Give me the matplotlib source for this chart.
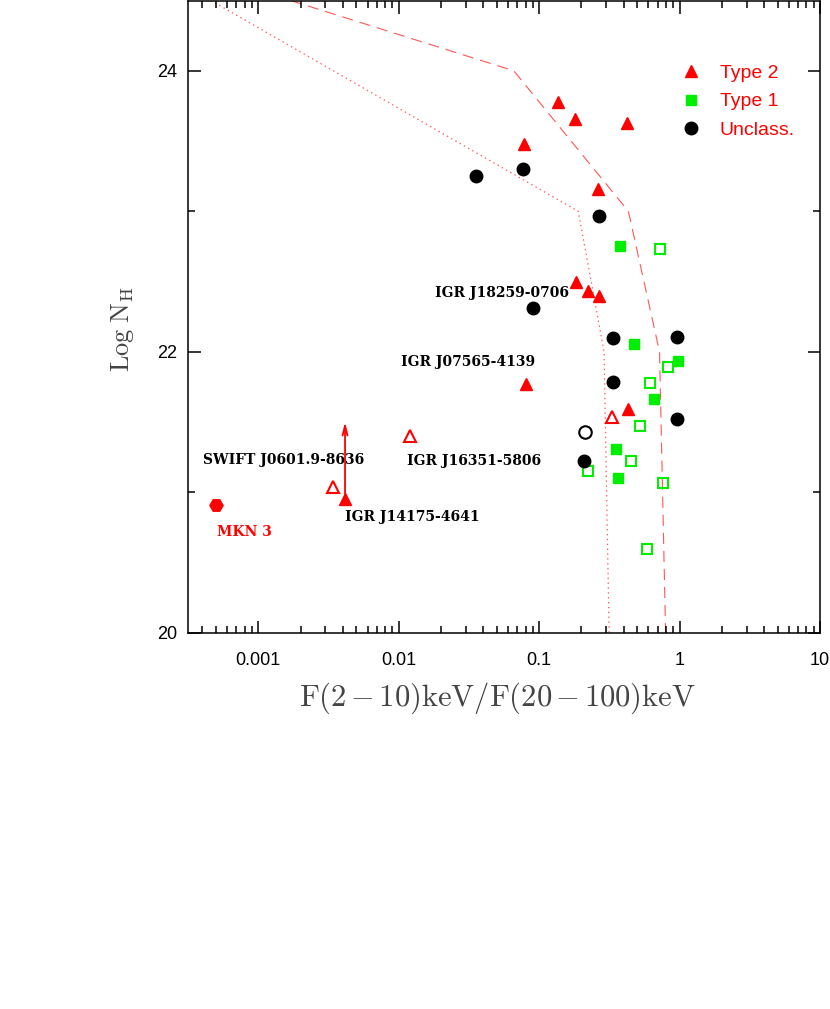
import matplotlib
matplotlib.use("Agg")
import matplotlib.pyplot as plt
from matplotlib.lines import Line2D

plt.rcParams['mathtext.fontset'] = 'cm'
plt.rcParams['lines.scale_dashes'] = False

# Type 2 (filled / open triangles)
t2_x = [0.136, 0.181, 0.425, 0.078, 0.261, 0.182, 0.222, 0.266, 0.0804, 0.432, 0.00415]
t2_y = [23.78, 23.66, 23.63, 23.48, 23.16, 22.50, 22.43, 22.40, 21.77, 21.59, 20.95]
t2o_x = [0.332, 0.0121, 0.00343]
t2o_y = [21.535, 21.40, 21.04]

# Type 1 (filled / open squares)
t1_x = [0.375, 0.473, 0.968, 0.653, 0.355, 0.365]
t1_y = [22.75, 22.056, 21.935, 21.664, 21.31, 21.10]
t1o_x = [0.724, 0.822, 0.615, 0.523, 0.451, 0.221, 0.766, 0.589]
t1o_y = [22.73, 21.894, 21.775, 21.47, 21.225, 21.15, 21.07, 20.60]

# Unclassified (filled / open circles)
un_x = [0.0353, 0.0766, 0.269, 0.0906, 0.338, 0.953, 0.338, 0.958, 0.209]
un_y = [23.25, 23.30, 22.97, 22.315, 22.096, 22.105, 21.785, 21.52, 21.22]
uno_x = [0.211]
uno_y = [21.43]

# MKN 3
mkn_x = [0.000504]
mkn_y = [20.91]

# lower limit for IGR J14175-4641
lim_x = 0.00415
lim_y = 20.95
lim_top = 21.50

# model curves
dash_x = [0.0017, 0.066, 0.432, 0.72, 0.795]
dash_y = [24.5, 24.0, 23.0, 22.0, 20.0]
dot_x = [0.00046, 0.19, 0.29, 0.315]
dot_y = [24.5, 23.0, 22.0, 20.0]

# source names
names = ["IGR J18259-0706", "IGR J07565-4139", "SWIFT J0601.9-8636",
         "IGR J16351-5806", "IGR J14175-4641"]
name_x = [0.0182, 0.0932, 0.000405, 0.01142, 0.00414]
name_y = [22.42, 21.93, 21.228, 21.226, 20.824]
name_ha = ['left', 'right', 'left', 'left', 'left']

red = '#ff0000'
green = '#00ee00'

fig = plt.figure(figsize=(8.3, 10.09), dpi=100)
ax = fig.add_axes([0.2265, 0.3727, 0.7615, 0.6268])

ax.plot(dash_x, dash_y, color='#ff5555', lw=0.8, dashes=(8, 5), zorder=1)
ax.plot(dot_x, dot_y, color='#ff5555', lw=0.9, dashes=(1, 2.5), zorder=1)

ax.plot(t2_x, t2_y, '^', color=red, ms=8.5, mec=red, ls='none', zorder=3)
ax.plot(t2o_x, t2o_y, '^', mfc='none', mec=red, mew=1.5, ms=8.5, ls='none', zorder=3)
ax.plot(t1_x, t1_y, 's', color=green, ms=6.5, ls='none', zorder=3)
ax.plot(t1o_x, t1o_y, 's', mfc='none', mec=green, mew=1.5, ms=7, ls='none', zorder=3)
ax.plot(un_x, un_y, 'o', color='black', ms=9, ls='none', zorder=3)
ax.plot(uno_x, uno_y, 'o', mfc='none', mec='black', mew=1.5, ms=9, ls='none', zorder=3)
ax.plot(mkn_x, mkn_y, 'H', color=red, ms=9.5, ls='none', zorder=3)

ax.annotate('', xy=(lim_x, lim_top), xytext=(lim_x, lim_y),
            arrowprops=dict(arrowstyle='->,head_length=0.7,head_width=0.18',
                            color=red, lw=1.3, shrinkA=0, shrinkB=0))

for n, x, y, ha in zip(names, name_x, name_y, name_ha):
    ax.text(x, y, n, ha=ha, va='center', family='DejaVu Serif',
            fontweight='bold', fontsize=10, color='black')
ax.text(0.000509, 20.72, "MKN 3", ha='left', va='center', family='DejaVu Serif',
        fontweight='bold', fontsize=10, color=red)

ax.set_xscale('log')
ax.set_xlim(10 ** -3.5, 10)
ax.set_ylim(20, 24.5)
ax.set_yticks([20, 22, 24])
ax.set_yticks([21, 23], minor=True)
ax.set_xticks([0.001, 0.01, 0.1, 1, 10])
ax.set_xticklabels(['0.001', '0.01', '0.1', '1', '10'])

ax.tick_params(which='both', direction='in', top=True, right=True, width=1.1,
               labelsize=13, labelfontfamily='Liberation Sans')
ax.tick_params(which='major', length=9)
ax.tick_params(which='minor', length=5)
ax.tick_params(axis='x', pad=14)
ax.tick_params(axis='y', pad=8)
for s in ax.spines.values():
    s.set_linewidth(1.1)

ax.set_xlabel(r'$\mathrm{F(2\,{-}\,10)keV/F(20\,{-}\,100)keV}$', fontsize=22,
              color='#444444')
ax.xaxis.set_label_coords(0.489, -0.075)
ax.set_ylabel(r'$\mathrm{Log\;N_H}$', fontsize=19, color='#444444')
ax.yaxis.set_label_coords(-0.082, 0.48)

handles = [Line2D([], [], marker='^', color=red, ls='none', ms=8.5),
           Line2D([], [], marker='s', color=green, ls='none', ms=6.5),
           Line2D([], [], marker='o', color='black', ls='none', ms=9)]
ax.legend(handles, ['Type 2', 'Type 1', 'Unclass.'], loc='upper left',
          bbox_to_anchor=(0.781, 0.899), frameon=False, borderpad=0,
          borderaxespad=0, handlelength=1.0, handletextpad=0.95,
          labelspacing=0.56, labelcolor=red,
          prop={'family': 'Liberation Sans', 'size': 14})

fig.savefig('out.png', dpi=100)
